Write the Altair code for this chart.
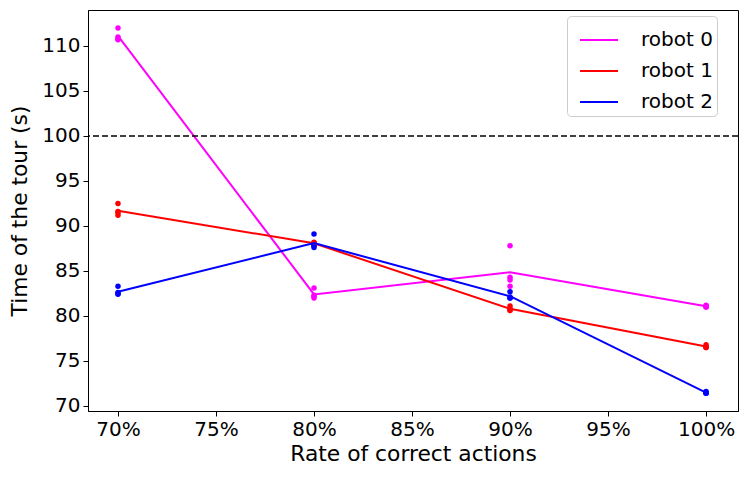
import altair as alt
import pandas as pd

robots = ["robot 0", "robot 1", "robot 2"]
rates = [70, 80, 90, 100]
colors = ["#ff00ff", "#ff0000", "#0000ff"]

# repeated measurements per robot per rate (seconds)
r0 = {70: [112.0, 111.0, 110.8, 110.7], 80: [83.1, 82.3, 82.2, 82.0],
      90: [87.8, 84.3, 84.0, 83.3], 100: [81.2, 81.1, 81.0, 81.0]}
r1 = {70: [92.5, 91.6, 91.5, 91.2], 80: [88.2, 88.0, 88.0, 88.1],
      90: [81.1, 80.8, 80.7, 80.6], 100: [76.8, 76.6, 76.5, 76.5]}
r2 = {70: [83.3, 82.6, 82.5, 82.4], 80: [89.1, 87.9, 87.8, 87.6],
      90: [82.7, 82.1, 82.0, 82.0], 100: [71.6, 71.5, 71.4, 71.4]}
threshold = 100

rows = []
for name, d in zip(robots, [r0, r1, r2]):
    for rate in rates:
        for v in d[rate]:
            rows.append({"robot": name, "rate": rate, "time": v})
df = pd.DataFrame(rows)

FONT = "DejaVu Sans"

x = alt.X("rate:Q", scale=alt.Scale(domain=[68.47, 101.63], nice=False, zero=False),
          axis=alt.Axis(title="Rate of correct actions", values=[70, 75, 80, 85, 90, 95, 100],
                        labelExpr="datum.value + '%'", grid=False))
y = alt.Y("time:Q", scale=alt.Scale(domain=[69.44, 114], nice=False, zero=False),
          axis=alt.Axis(title="Time of the tour (s)", values=[70, 75, 80, 85, 90, 95, 100, 105, 110],
                        grid=False))
color = alt.Color("robot:N", scale=alt.Scale(domain=robots, range=colors),
                  legend=alt.Legend(title=None, orient="none", legendX=479, legendY=6,
                                    symbolType="stroke", symbolSize=1444, symbolStrokeWidth=2,
                                    symbolOffset=8,
                                    labelFontSize=20, labelFont=FONT, rowPadding=1,
                                    fillColor="white", strokeColor="#cccccc", cornerRadius=4,
                                    padding=4, labelOffset=22, labelColor="black"))

base = alt.Chart(df)
lines = base.mark_line(strokeWidth=2).encode(x=x, y="mean(time):Q", color=color,
                                             order=alt.Order("rate:Q"))
points = base.mark_circle(size=30, opacity=1).encode(x=x, y=y, color=color)
rule = alt.Chart(pd.DataFrame({"t": [threshold]})).mark_rule(
    color="black", strokeWidth=1.6, strokeDash=[6, 3]).encode(y="t:Q")

chart = alt.layer(points, lines, rule).properties(
    width=650, height=401,
    padding={"left": 80, "top": 2, "right": 2, "bottom": 60},
    autosize=alt.AutoSizeParams(type="none"),
).configure_view(stroke="black", strokeWidth=1).configure_axis(
    labelFont=FONT, titleFont=FONT, labelFontSize=20, titleFontSize=21.8,
    titleFontWeight="normal", labelColor="black", titleColor="black",
    domainColor="black", tickColor="black", tickSize=5, labelPadding=3,
).configure_axisY(titlePadding=10).configure_axisX(titlePadding=4)

chart.save("out.html", embed_options={"renderer": "svg", "actions": False})
